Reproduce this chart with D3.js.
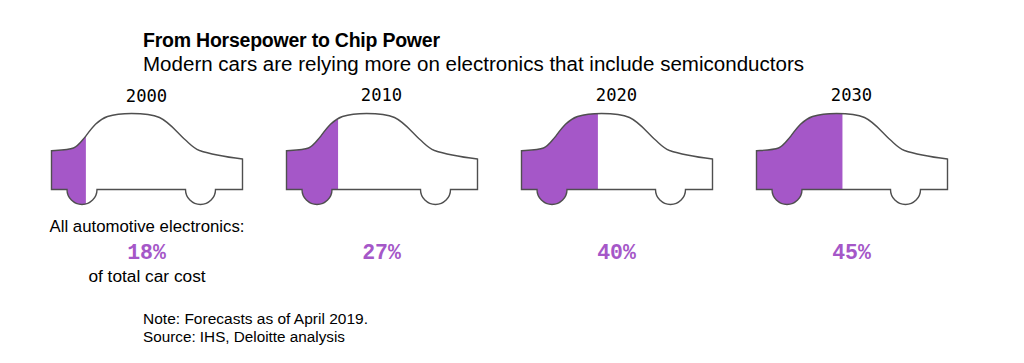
<!DOCTYPE html>
<html><head><meta charset="utf-8">
<script src="https://cdn.jsdelivr.net/npm/d3@7"></script>
<style>html,body{margin:0;padding:0;background:#fff}svg{display:block}text{font-family:"Liberation Sans",Arial,sans-serif;fill:#000}.mono{font-family:"DejaVu Sans Mono",monospace}.pct{font-family:"Liberation Mono",monospace}</style>
</head><body><div id="c"></div>
<script>
const years = ["2000","2010","2020","2030"];
const shares = [18,27,40,45];
const titleText = "From Horsepower to Chip Power";
const subtitleText = "Modern cars are relying more on electronics that include semiconductors";
const leadText = "All automotive electronics:";
const tailText = "of total car cost";
const noteLines = ["Note: Forecasts as of April 2019.","Source: IHS, Deloitte analysis"];
const carPath = "M0,37.7 C8,37.2 17,37 22,35 C27,33 30,28 34,23.5 C40,15.5 46,7 56,3.5 C64,1 72,0.5 80,0.5 C90,0.5 100,1 108,4.5 C118,9 126,20 134,27 C139,31.5 142,35 148,37.5 C158,41 175,44 191,46 L191,76.5 L164,76.5 A15,15 0 0 1 134,76.5 L45.5,76.5 A15,15 0 0 1 15.5,76.5 L0,76.5 Z";
const W=1024,H=363,carW=191;
const svg=d3.select("#c").append("svg").attr("width",W).attr("height",H);
const x=d3.scalePoint().domain(years).range([51.5,756.5]);
const w=d3.scaleLinear().domain([0,100]).range([0,carW]);
svg.append("text").text(titleText).attr("x",143).attr("y",47).attr("font-size",19.5).attr("font-weight",700).attr("textLength",297);
svg.append("text").text(subtitleText).attr("x",143).attr("y",71).attr("font-size",19.6).attr("fill","#222").attr("textLength",661).attr("lengthAdjust","spacingAndGlyphs");
const defs=svg.append("defs");
const g=svg.selectAll("g.car").data(years).join("g").attr("class","car").attr("transform",d=>`translate(${x(d)},113)`);
g.each(function(d,i){
  const s=d3.select(this);
  defs.append("clipPath").attr("id","cp"+i).append("rect").attr("x",-2).attr("y",-2).attr("width",w(shares[i])+2).attr("height",100);
  s.append("path").attr("d",carPath).attr("fill","#fff");
  s.append("path").attr("d",carPath).attr("fill","#a557c8").attr("clip-path",`url(#cp${i})`);
  s.append("path").attr("d",carPath).attr("fill","none").attr("stroke","#4f4f4f").attr("stroke-width",1.4);
  s.append("text").attr("class","mono").text(d).attr("x",carW/2-0.5).attr("y",i===0?-11:-12.5).attr("text-anchor","middle").attr("font-size",17.2);
  s.append("text").attr("class","pct").text(shares[i]+"%").attr("x",carW/2-0.5).attr("y",145.5).attr("text-anchor","middle").attr("font-size",21.5).attr("font-weight",700).style("fill","#a557c8");
});
svg.append("text").text(leadText).attr("x",147).attr("y",231.5).attr("text-anchor","middle").attr("font-size",16.8);
svg.append("text").text(tailText).attr("x",147).attr("y",281.5).attr("text-anchor","middle").attr("font-size",17.3);
svg.selectAll("text.note").data(noteLines).join("text").attr("class","note").text(d=>d).attr("x",143).attr("y",(d,i)=>323.5+i*18).attr("font-size",15.4).attr("textLength",(d,i)=>[225,202][i]).attr("lengthAdjust","spacingAndGlyphs");
</script></body></html>
